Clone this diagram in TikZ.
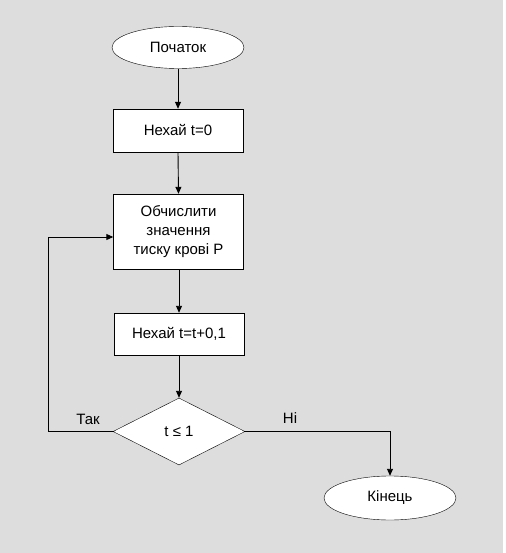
\documentclass[tikz,border=0pt]{standalone}
\usepackage{fontspec}
\setmainfont{Liberation Sans}
\usetikzlibrary{shapes.geometric,arrows.meta}
\definecolor{bg}{HTML}{DDDDDD}
\begin{document}
\begin{tikzpicture}[x=1pt,y=-1pt,
  font=\fontsize{15}{19}\selectfont,
  every node/.style={inner sep=0pt},
  termbox/.style={ellipse,draw=black,fill=white,minimum width=132pt,minimum height=42pt},
  procbox/.style={rectangle,draw=black,fill=white,minimum width=130pt,align=center},
  decbox/.style={diamond,draw=black,fill=white,minimum width=132pt,minimum height=67pt,aspect=1.97},
  conn/.style={draw=black,line width=0.9pt,-{Triangle[length=7pt,width=6pt]}},
  plain/.style={draw=black,line width=0.9pt}
]
\useasboundingbox (0,0) rectangle (505,553);
\fill[white] (0,0) rectangle (505,553);
\fill[bg] (0,0) rectangle (503,553);

\node[termbox] (start) at (178,47.5) {Початок};
\node[procbox,minimum height=43pt] (b1) at (178,130.5) {Нехай t=0};
\node[procbox,minimum height=75pt] (b2) at (178.5,231.5) {Обчислити\\значення\\тиску крові Р};
\node[procbox,minimum height=42pt] (b3) at (179,334) {Нехай t=t+0,1};
\node[decbox] (d) at (179,431.5) {t ≤ 1};
\node[termbox,minimum height=44pt] (end) at (390,498) {Кінець};

\coordinate (lp) at (48,237);
\node (tak) at (88,419) {Так};
\node (ni) at (290,418) {Ні};

\draw[conn] (start.south) -- (b1.north);
\draw[conn] (b1.south) -- (b2.north);
\draw[conn] (b2.south -| b3.north) -- (b3.north);
\draw[conn] (b3.south) -- (d.north);
\draw[conn] (d.west) -| (lp) -- (lp -| b2.west);
\draw[conn] (d.east) -| (end.north);
\end{tikzpicture}
\end{document}
